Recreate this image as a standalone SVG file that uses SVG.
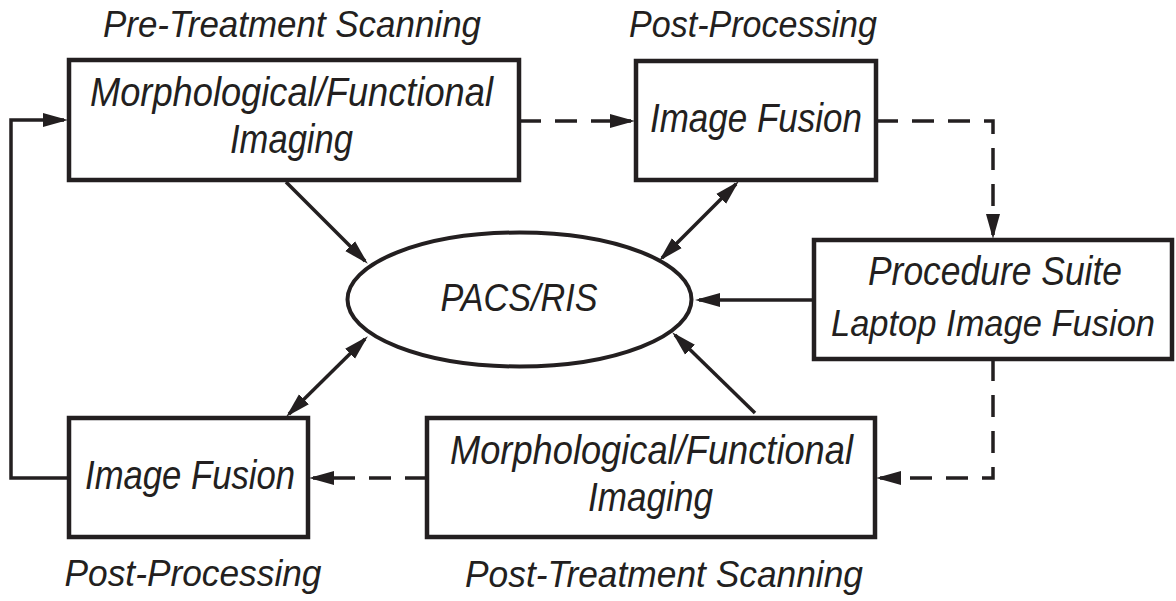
<svg xmlns="http://www.w3.org/2000/svg" width="1176" height="601" viewBox="0 0 1176 601">
<style>
.box{fill:#fff;stroke:#231f20;stroke-width:4.5}
.ell{fill:#fff;stroke:#231f20;stroke-width:4}
.t{font-family:"Liberation Sans",Arial,sans-serif;font-style:italic;fill:#231f20;text-anchor:middle}
.bt{font-size:41px}
.lt{font-size:37px}
.c{fill:none;stroke:#231f20;stroke-width:3.5}
.d{stroke-dasharray:22 14}
</style>
<defs>
<marker id="ah" markerUnits="userSpaceOnUse" markerWidth="26" markerHeight="16" viewBox="0 0 26 16" refX="21" refY="8" orient="auto">
<path d="M0,1 L25,8 L0,15 z" fill="#231f20"/>
</marker>
<marker id="as" markerUnits="userSpaceOnUse" markerWidth="26" markerHeight="16" viewBox="0 0 26 16" refX="5" refY="8" orient="auto">
<path d="M26,1 L1,8 L26,15 z" fill="#231f20"/>
</marker>
</defs>
<rect width="1176" height="601" fill="#fff"/>
<g id="connectors">
<polyline class="c" points="69,478 11,478 11,120 64,120" marker-end="url(#ah)"/>
<line class="c d" x1="519" y1="121" x2="631" y2="121" marker-end="url(#ah)"/>
<polyline class="c d" points="876,121 993,121 993,235" marker-end="url(#ah)"/>
<line class="c" x1="814" y1="300" x2="699" y2="300" marker-end="url(#ah)"/>
<polyline class="c d" points="993,359 993,478 880,478" marker-end="url(#ah)"/>
<line class="c d" x1="427" y1="478" x2="313" y2="478" marker-end="url(#ah)"/>
<line class="c" x1="286" y1="182" x2="365" y2="261" marker-end="url(#ah)"/>
<line class="c" x1="736" y1="184" x2="662" y2="258" marker-start="url(#as)" marker-end="url(#ah)"/>
<line class="c" x1="289" y1="414" x2="365" y2="339" marker-start="url(#as)" marker-end="url(#ah)"/>
<line class="c" x1="755" y1="413" x2="675" y2="335" marker-end="url(#ah)"/>
</g>
<g id="lbl-pre"><text class="t lt" x="292" y="37" textLength="378" lengthAdjust="spacingAndGlyphs">Pre-Treatment Scanning</text></g>
<g id="lbl-post-top"><text class="t lt" x="753" y="37" textLength="248" lengthAdjust="spacingAndGlyphs">Post-Processing</text></g>
<g id="lbl-post-bottom"><text class="t lt" x="193" y="586" textLength="257" lengthAdjust="spacingAndGlyphs">Post-Processing</text></g>
<g id="lbl-post-treat"><text class="t lt" x="664" y="587" textLength="398" lengthAdjust="spacingAndGlyphs">Post-Treatment Scanning</text></g>
<g id="node-pre-imaging">
<rect class="box" x="69" y="60" width="450" height="120"/>
<text class="t bt" x="291.5" y="106" textLength="403" lengthAdjust="spacingAndGlyphs">Morphological/Functional</text>
<text class="t bt" x="291.5" y="153" textLength="123" lengthAdjust="spacingAndGlyphs">Imaging</text>
</g>
<g id="node-fusion-top">
<rect class="box" x="636" y="61" width="240" height="119"/>
<text class="t bt" x="756" y="132" textLength="212" lengthAdjust="spacingAndGlyphs">Image Fusion</text>
</g>
<g id="node-procedure">
<rect class="box" x="814" y="240" width="358" height="119"/>
<text class="t bt" x="995" y="285" textLength="254" lengthAdjust="spacingAndGlyphs">Procedure Suite</text>
<text class="t" x="993" y="336" font-size="36" textLength="324" lengthAdjust="spacingAndGlyphs">Laptop Image Fusion</text>
</g>
<g id="node-post-imaging">
<rect class="box" x="427" y="418" width="448" height="119"/>
<text class="t bt" x="651.5" y="464" textLength="403" lengthAdjust="spacingAndGlyphs">Morphological/Functional</text>
<text class="t bt" x="650.5" y="511" textLength="125" lengthAdjust="spacingAndGlyphs">Imaging</text>
</g>
<g id="node-fusion-bottom">
<rect class="box" x="69" y="418" width="239" height="119"/>
<text class="t bt" x="190" y="489" textLength="210" lengthAdjust="spacingAndGlyphs">Image Fusion</text>
</g>
<g id="node-pacs">
<ellipse class="ell" cx="519.5" cy="299.5" rx="172" ry="67"/>
<text class="t" x="519" y="311" font-size="38" textLength="157" lengthAdjust="spacingAndGlyphs">PACS/RIS</text>
</g>
</svg>
